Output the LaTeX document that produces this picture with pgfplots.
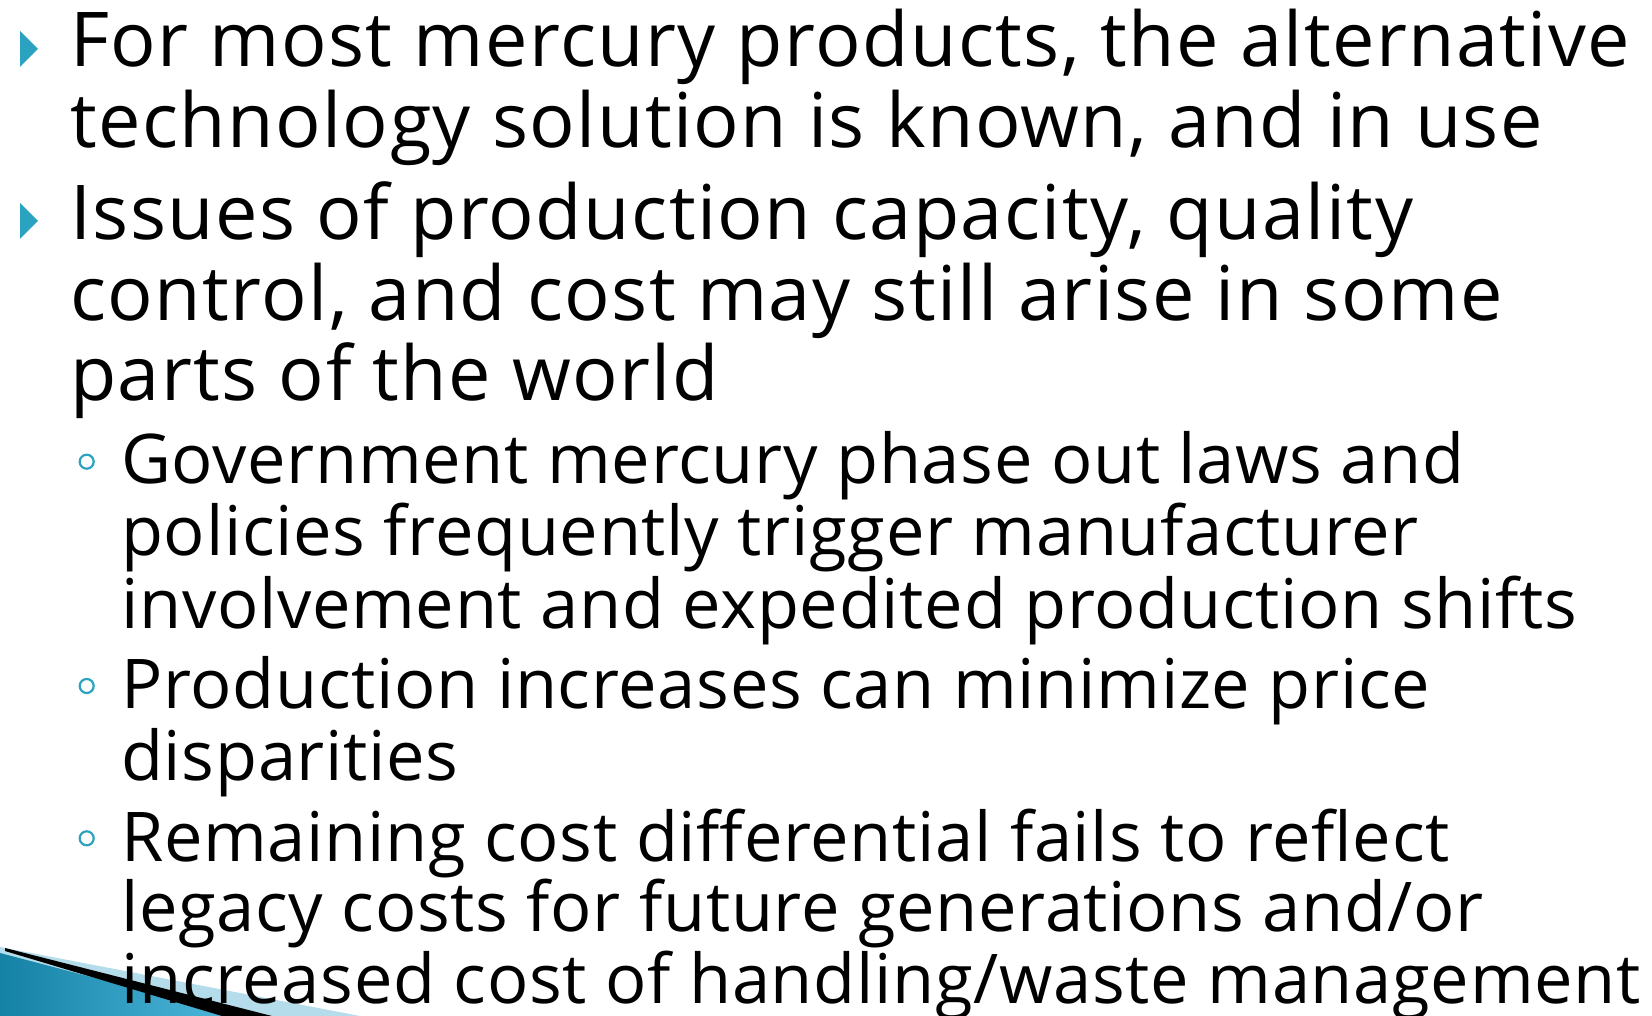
\documentclass[border=0pt]{standalone}
\usepackage{pgfplots}
\pgfplotsset{compat=1.18}
\usepackage{fontspec}
\setmainfont{Open Sans}
\newfontfamily\lvonefont[LetterSpace=1.9]{Open Sans}
\newfontfamily\lvtwofont[LetterSpace=1.0]{Open Sans}
\definecolor{bul}{RGB}{43,163,192}
\definecolor{lightc}{RGB}{180,220,234}
\definecolor{darkl}{RGB}{20,130,165}
\definecolor{darkr}{RGB}{80,185,220}
\begin{document}
\begin{tikzpicture}
\begin{axis}[
  width=1652pt, height=1016pt, scale only axis,
  xmin=0, xmax=1652, ymin=0, ymax=1016, y dir=reverse,
  hide axis, clip=false,
]
% decoration bottom-left
\addplot[fill=lightc, draw=none] coordinates {(0,947) (360,1016) (0,1016)} -- cycle;
\addplot[left color=darkl, right color=darkr, draw=none] coordinates {(0,953) (240,1016) (0,1016)} -- cycle;
\addplot[fill=black, draw=none] coordinates {(5,948) (272,1016) (222,1016) (5,951)} -- cycle;
% bullets
\addplot[fill=bul, draw=none] coordinates {(20,31) (38,49) (20,67)} -- cycle;
\addplot[fill=bul, draw=none] coordinates {(20,203) (38,221) (20,239)} -- cycle;
\addplot[only marks, mark=o, mark size=7pt, bul, line width=2.2pt] coordinates {(86.7,461.7) (86.7,686) (86.7,838.3)};
% text
\tikzset{lv1/.style={anchor=base west, inner sep=0pt, font=\lvonefont\fontsize{75.6}{80}\selectfont},
         lv2/.style={anchor=base west, inner sep=0pt, font=\lvtwofont\fontsize{68.6}{72}\selectfont}}
\node[lv1] at (axis cs:70,66.7) {For most mercury products, the alternative};
\node[lv1] at (axis cs:70,148) {technology solution is known, and in use};
\node[lv1] at (axis cs:70,239.3) {Issues of production capacity, quality};
\node[lv1] at (axis cs:70,320.7) {control, and cost may still arise in some};
\node[lv1] at (axis cs:70,400) {parts of the world};
\node[lv2] at (axis cs:121,483.3) {Government mercury phase out laws and};
\node[lv2] at (axis cs:121,555) {policies frequently trigger manufacturer};
\node[lv2] at (axis cs:121,628.3) {involvement and expedited production shifts};
\node[lv2] at (axis cs:121,708.3) {Production increases can minimize price};
\node[lv2] at (axis cs:121,780) {disparities};
\node[lv2] at (axis cs:121,861) {Remaining cost differential fails to reflect};
\node[lv2] at (axis cs:121,931.7) {legacy costs for future generations and/or};
\node[lv2] at (axis cs:121,1003.3) {increased cost of handling/waste management};
\end{axis}
\pgfresetboundingbox
\useasboundingbox (0,0) rectangle (1652pt,1016pt);
\end{tikzpicture}
\end{document}
